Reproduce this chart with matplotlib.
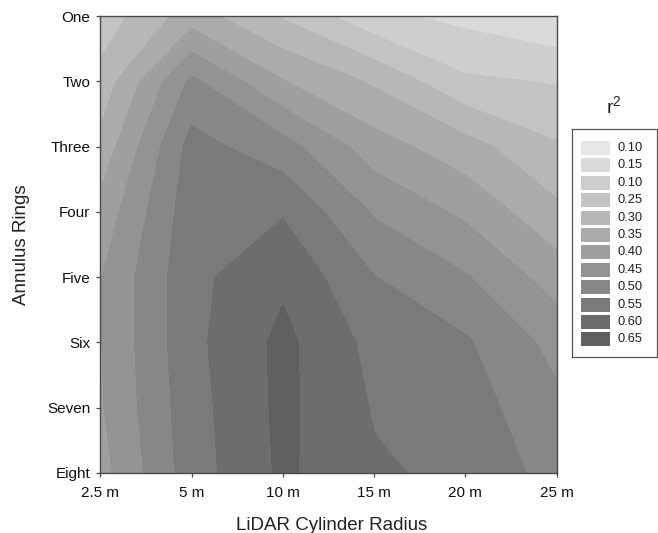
import matplotlib
matplotlib.use("Agg")
import matplotlib.pyplot as plt
import numpy as np
from matplotlib.patches import Rectangle

plt.rcParams['font.family'] = ['Liberation Sans', 'DejaVu Sans']
plt.rcParams['mathtext.fontset'] = 'custom'
plt.rcParams['mathtext.rm'] = 'Liberation Sans'
plt.rcParams['mathtext.it'] = 'Liberation Sans'

# ---- data ----
radius_labels = ["2.5 m", "5 m", "10 m", "15 m", "20 m", "25 m"]
ring_labels = ["One", "Two", "Three", "Four", "Five", "Six", "Seven", "Eight"]

# r^2 per annulus ring (rows) and LiDAR cylinder radius (columns)
r2_one   = [0.269, 0.374, 0.294, 0.212, 0.185, 0.155]
r2_two   = [0.315, 0.510, 0.402, 0.342, 0.258, 0.246]
r2_three = [0.365, 0.568, 0.520, 0.422, 0.369, 0.305]
r2_four  = [0.415, 0.580, 0.595, 0.494, 0.439, 0.361]
r2_five  = [0.447, 0.586, 0.640, 0.551, 0.504, 0.426]
r2_six   = [0.447, 0.586, 0.663, 0.584, 0.556, 0.483]
r2_seven = [0.444, 0.580, 0.662, 0.596, 0.573, 0.512]
r2_eight = [0.430, 0.576, 0.659, 0.606, 0.589, 0.530]

levels = [0.10, 0.15, 0.20, 0.25, 0.30, 0.35, 0.40, 0.45, 0.50, 0.55, 0.60, 0.65, 0.70]
band_colors = ["#e6e6e6", "#dadada", "#cecece", "#c3c3c3", "#b7b7b7", "#ababab",
               "#9f9f9f", "#939393", "#878787", "#7a7a7a", "#6d6d6d", "#5f5f5f"]
legend_labels = ["0.10", "0.15", "0.10", "0.25", "0.30", "0.35",
                 "0.40", "0.45", "0.50", "0.55", "0.60", "0.65"]

Z = np.array([r2_one, r2_two, r2_three, r2_four, r2_five, r2_six, r2_seven, r2_eight])

W, H = 658, 533
fig = plt.figure(figsize=(W / 100, H / 100), dpi=100)
fig.patch.set_facecolor("white")

# main axes (pixel box: x 100..557, y 16..473)
ax = fig.add_axes([100.3 / W, (H - 473) / H, 456.3 / W, 457 / H])
xs = np.arange(len(radius_labels))
ys = np.arange(len(ring_labels))
X, Y = np.meshgrid(xs, ys)
cs = ax.contourf(X, Y, Z, levels=levels, colors=band_colors, antialiased=False)
# fill hairline seams between bands with the band's own colour
cs.set_edgecolor("face")
cs.set_linewidth(0.6)
ax.set_xlim(xs[0], xs[-1])
ax.set_ylim(ys[-1], ys[0])

ax.set_xticks(xs)
ax.set_xticklabels(radius_labels)
ax.set_yticks(ys)
ax.set_yticklabels(ring_labels)
frame_col = "#4a4a4a"
for sp in ax.spines.values():
    sp.set_color(frame_col)
    sp.set_linewidth(1.0)
    sp.set_zorder(5)
ax.tick_params(direction="out", length=3.2, width=0.9, color=frame_col,
               labelsize=11, labelcolor="#111111")
ax.tick_params(axis="x", pad=6)
ax.tick_params(axis="y", pad=4)

fig.text(332 / W, 1 - 525 / H, "LiDAR Cylinder Radius", ha="center", va="center",
         fontsize=13.5, color="#222222")
fig.text(22 / W, 1 - 245 / H, "Annulus Rings", ha="center", va="center",
         rotation=90, fontsize=13.5, color="#222222")

# legend (pixel box: x 572..657, y 129..357)
lx0, ly0, lx1, ly1 = 572, 129, 657, 357
lax = fig.add_axes([lx0 / W, (H - ly1) / H, (lx1 - lx0) / W, (ly1 - ly0) / H])
lax.set_xlim(0, lx1 - lx0)
lax.set_ylim(ly1 - ly0, 0)
lax.set_xticks([])
lax.set_yticks([])
for sp in lax.spines.values():
    sp.set_color("#555555")
    sp.set_linewidth(0.9)
for i, (c, lab) in enumerate(zip(band_colors, legend_labels)):
    yc = 19 + i * 17.4
    lax.add_patch(Rectangle((9, yc - 7), 29, 14, facecolor=c, edgecolor="none"))
    lax.text(45, yc, lab, ha="left", va="center", fontsize=9.3, color="#222222")

fig.text(614 / W, 1 - 106 / H, r"$\mathregular{r^2}$", ha="center", va="center",
         fontsize=14, color="#222222")

fig.savefig("out.png", dpi=100)
